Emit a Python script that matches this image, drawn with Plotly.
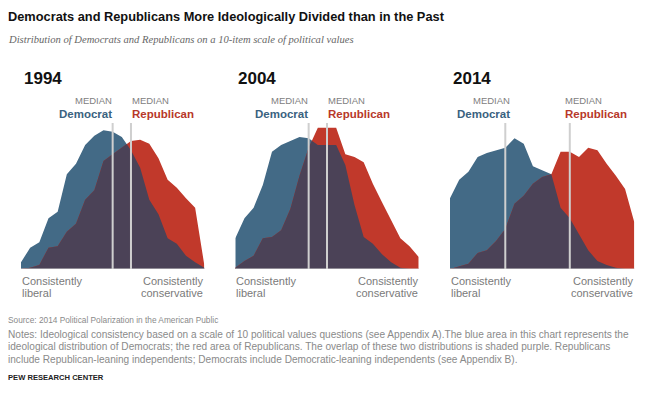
import plotly.graph_objects as go

W, H = 651, 396

# ---- data (share of each party at each point of the 10-item scale) ----
scale = list(range(-10, 11))
years = ["1994", "2004", "2014"]

dem_1994 = [0.5, 1.6, 2.0, 3.8, 4.3, 7.1, 7.9, 9.3, 10.0, 10.4, 10.3, 9.9, 8.9, 7.6, 5.2, 4.1, 2.3, 1.9, 1.0, 0.5, 0.1]
rep_1994 = [0.0, 0.1, 0.3, 1.6, 1.7, 2.8, 3.4, 5.2, 5.9, 8.1, 8.6, 9.1, 9.6, 9.7, 9.4, 8.3, 6.7, 6.1, 5.3, 4.6, 0.3]
dem_2004 = [2.3, 3.8, 4.6, 6.3, 8.8, 9.3, 9.6, 9.9, 9.8, 9.3, 9.3, 9.3, 7.8, 4.8, 2.4, 1.9, 1.1, 0.5, 0.1, 0.0, 0.0]
rep_2004 = [0.1, 0.6, 1.0, 2.3, 2.4, 2.9, 4.5, 7.0, 9.1, 10.6, 10.6, 10.6, 8.6, 8.4, 8.0, 6.4, 5.0, 3.6, 2.3, 1.7, 0.9]
dem_2014 = [5.3, 6.7, 7.3, 8.4, 8.7, 8.9, 9.1, 9.8, 9.4, 7.7, 7.4, 7.1, 4.6, 3.8, 2.6, 1.4, 0.6, 0.3, 0.1, 0.0, 0.0]
rep_2014 = [0.0, 0.2, 0.4, 1.2, 1.4, 2.1, 3.0, 4.9, 5.5, 6.4, 6.9, 7.1, 8.8, 8.8, 8.4, 9.1, 8.9, 7.9, 7.0, 6.0, 3.5]

median_dem = [0.0, -2.0, -4.0]
median_rep = [2.0, 0.0, 3.0]

dem_series = [dem_1994, dem_2004, dem_2014]
rep_series = [rep_1994, rep_2004, rep_2014]

# ---- style ----
BLUE = "#436a86"
RED = "#c1392b"
PURPLE = "#4b4257"
BLUE_TXT = "#3a6280"
RED_TXT = "#b8382a"
GRAY_TXT = "#808080"
SANS = "Liberation Sans, Arial, sans-serif"
SERIF = "Liberation Serif, Georgia, serif"

panel_px = [(21, 204.3), (235.3, 418.7), (450, 634.3)]
base_px, top_px = 269, 120
yrange_top = (base_px - top_px) / (40 / 3)


def px_x(x):
    return x / W


def px_y(y):
    return 1 - y / H


def overlap(xs, a, b):
    ox, oy = [], []
    for k in range(len(xs)):
        ox.append(xs[k])
        oy.append(min(a[k], b[k]))
        if k < len(xs) - 1:
            d0 = a[k] - b[k]
            d1 = a[k + 1] - b[k + 1]
            if d0 * d1 < 0:
                t = d0 / (d0 - d1)
                ox.append(xs[k] + t * (xs[k + 1] - xs[k]))
                oy.append(a[k] + t * (a[k + 1] - a[k]))
    return ox, oy


def txt(text, x, y, size, color, family=SANS, xanchor="left", xref="paper", xshift=0):
    return dict(text=text, xref=xref, yref="paper",
                x=x if xref != "paper" else px_x(x), y=px_y(y),
                xanchor=xanchor, yanchor="middle", xshift=xshift, showarrow=False,
                font=dict(family=family, size=size, color=color))


fig = go.Figure()
shapes = []
annotations = []
layout_axes = {}

for p in range(3):
    sfx = "" if p == 0 else str(p + 1)
    xa, ya = "x" + sfx, "y" + sfx
    dem, rep = dem_series[p], rep_series[p]
    fig.add_trace(go.Scatter(x=scale, y=dem, xaxis=xa, yaxis=ya, mode="lines",
                             line=dict(width=0, color=BLUE), fill="tozeroy",
                             fillcolor=BLUE, hoverinfo="skip"))
    fig.add_trace(go.Scatter(x=scale, y=rep, xaxis=xa, yaxis=ya, mode="lines",
                             line=dict(width=0, color=RED), fill="tozeroy",
                             fillcolor=RED, hoverinfo="skip"))
    ox, oy = overlap(scale, dem, rep)
    fig.add_trace(go.Scatter(x=ox, y=oy, xaxis=xa, yaxis=ya, mode="lines",
                             line=dict(width=0, color=PURPLE), fill="tozeroy",
                             fillcolor=PURPLE, hoverinfo="skip"))

    x0, x1 = panel_px[p]
    layout_axes["xaxis" + sfx] = dict(domain=[px_x(x0), px_x(x1)], range=[-10, 10],
                                      visible=False, anchor=ya, fixedrange=True)
    layout_axes["yaxis" + sfx] = dict(domain=[px_y(base_px), px_y(top_px)],
                                      range=[0, yrange_top], visible=False,
                                      anchor=xa, fixedrange=True)

    # baseline
    shapes.append(dict(type="line", xref=xa + " domain", yref=ya, x0=0, x1=1, y0=0, y1=0,
                       line=dict(color="#d4d4d4", width=1)))
    # median lines
    ytop = (base_px - 123) / (base_px - top_px)
    for m in (median_dem[p], median_rep[p]):
        shapes.append(dict(type="line", xref=xa, yref=ya + " domain", x0=m, x1=m,
                           y0=0, y1=ytop, line=dict(color="#cfcfcf", width=2)))

    # year label
    annotations.append(txt("<b>" + years[p] + "</b>", x0 + 1, 78, 17, "#111"))

    # median labels
    shift_d = 7 if p == 2 else 1
    shift_r = -7 if p == 2 else -1
    annotations.append(txt("MEDIAN", median_dem[p], 101, 9.5, GRAY_TXT, xanchor="right", xref=xa, xshift=shift_d))
    annotations.append(txt("<b>Democrat</b>", median_dem[p], 114, 11.5, BLUE_TXT, xanchor="right", xref=xa, xshift=shift_d))
    annotations.append(txt("MEDIAN", median_rep[p], 101, 9.5, GRAY_TXT, xanchor="left", xref=xa, xshift=shift_r))
    annotations.append(txt("<b>Republican</b>", median_rep[p], 114, 11.5, RED_TXT, xanchor="left", xref=xa, xshift=shift_r))

    # axis end labels
    annotations.append(txt("Consistently", x0 - 1, 281, 11, "#7a7a7a"))
    annotations.append(txt("liberal", x0 - 1, 293, 11, "#7a7a7a"))
    annotations.append(txt("Consistently", x1 + 1, 281, 11, "#7a7a7a", xanchor="right"))
    annotations.append(txt("conservative", x1 + 1, 293, 11, "#7a7a7a", xanchor="right"))

# title & subtitle
annotations.append(txt("<b>Democrats and Republicans More Ideologically Divided than in the Past</b>",
                       6, 16, 12.8, "#111"))
annotations.append(txt("<i>Distribution of Democrats and Republicans on a 10-item scale of political values</i>",
                       6, 40, 10.6, "#666", family=SERIF))

# footer
annotations.append(txt("Source: 2014 Political Polarization in the American Public", 6, 320, 8.3, "#8a8a8a"))
notes = [
    ("Notes: Ideological consistency based on a scale of 10 political values questions (see Appendix A).The blue area in this chart represents the", 334),
    ("ideological distribution of Democrats; the red area of Republicans. The overlap of these two distributions is shaded purple. Republicans", 346),
    ("include Republican-leaning independents; Democrats include Democratic-leaning independents (see Appendix B).", 359),
]
for t, yy in notes:
    annotations.append(txt(t, 6, yy, 10.1, "#8a8a8a"))
annotations.append(txt("<b>PEW RESEARCH CENTER</b>", 6, 377, 7.6, "#222"))

fig.update_layout(
    width=W, height=H, margin=dict(l=0, r=0, t=0, b=0),
    paper_bgcolor="white", plot_bgcolor="rgba(0,0,0,0)",
    showlegend=False, hovermode=False,
    shapes=shapes, annotations=annotations,
    **layout_axes,
)

fig.write_html("out.html", config={"displayModeBar": False},
               post_script="document.body.style.margin='0px';")
